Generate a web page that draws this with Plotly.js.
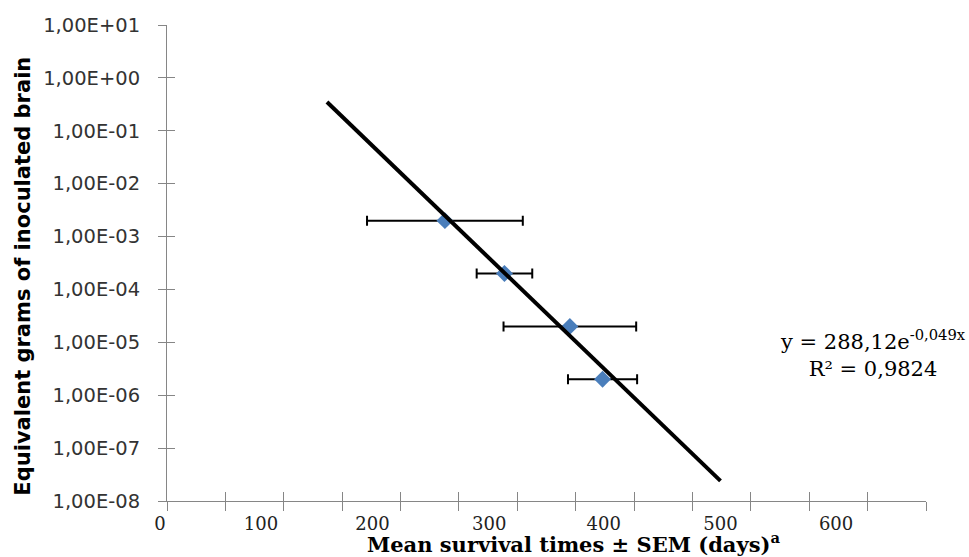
<!DOCTYPE html>
<html>
<head>
<meta charset="utf-8">
<script src="https://cdn.plot.ly/plotly-3.0.1.min.js"></script>
<style>html,body{margin:0;padding:0;background:#fff;}#chart{width:969px;height:557px;}</style>
</head>
<body>
<div id="chart"></div>
<script>
// Data
const survivalDays = [238, 289, 345, 373];
const brainGrams = [2e-3, 2e-4, 2e-5, 2e-6];
const semDays = [66.7, 23.8, 56.8, 29.6];
const trendDays = [137, 474];
const trendGrams = [0.35, 2.4e-8];

const yTickVals = [1e1, 1e0, 1e-1, 1e-2, 1e-3, 1e-4, 1e-5, 1e-6, 1e-7, 1e-8];
const yTickLabels = ['1,00E+01','1,00E+00','1,00E-01','1,00E-02','1,00E-03','1,00E-04','1,00E-05','1,00E-06','1,00E-07','1,00E-08'];
const xTickVals = [0,50,100,150,200,250,300,350,400,450,500,550,600,650];
const xTickLabels = ['0','100','200','300','400','500','600'];
// label anchor positions (labels in the reference sit left of their ticks)
const xLabelPos = [0, 86.5, 182, 282, 380, 480, 579];

const axisColor = '#868686';
const xRange = [0, 650];
const yRange = [-8, 1];

const traces = [
  {
    x: survivalDays, y: brainGrams, type: 'scatter', mode: 'markers',
    marker: {symbol: 'diamond', size: 13, color: '#4a7ebb'},
    error_x: {type: 'data', array: semDays, visible: true, color: '#000', thickness: 2, width: 5},
    showlegend: false
  },
  {
    x: trendDays, y: trendGrams, type: 'scatter', mode: 'lines',
    line: {color: '#000', width: 4}, showlegend: false
  },
  {x: [], y: [], xaxis: 'x2', yaxis: 'y', showlegend: false, type: 'scatter'},
  {x: [], y: [], xaxis: 'x3', yaxis: 'y2', showlegend: false, type: 'scatter'}
];

const layout = {
  width: 969, height: 557,
  margin: {l: 166.7, r: 43.3, t: 25, b: 56.3},
  paper_bgcolor: '#fff', plot_bgcolor: '#fff',
  showlegend: false,
  xaxis: {
    range: xRange, tickmode: 'array', tickvals: xTickVals, showticklabels: false,
    ticks: 'outside', ticklen: 9, tickcolor: axisColor, tickwidth: 1,
    showline: true, linecolor: axisColor, linewidth: 1, showgrid: false, zeroline: false
  },
  xaxis2: {
    overlaying: 'x', range: xRange, tickmode: 'array', tickvals: xLabelPos, ticktext: xTickLabels,
    ticks: '', showline: false, showgrid: false, zeroline: false, side: 'bottom',
    tickfont: {family: 'DejaVu Serif', size: 18, color: '#222'}, ticklabelstandoff: 10, ticklabelshift: -7
  },
  xaxis3: {
    overlaying: 'x', range: xRange, tickmode: 'array', tickvals: xTickVals, showticklabels: false,
    ticks: 'inside', ticklen: 9, tickcolor: axisColor, tickwidth: 1,
    showline: false, showgrid: false, zeroline: false
  },
  yaxis: {
    type: 'log', range: yRange, tickmode: 'array', tickvals: yTickVals, ticktext: yTickLabels,
    ticks: 'outside', ticklen: 8, tickcolor: axisColor, tickwidth: 1,
    showline: true, linecolor: axisColor, linewidth: 1, showgrid: false, zeroline: false,
    tickfont: {family: 'DejaVu Sans', size: 19.5, color: '#333'}, ticklabelstandoff: 14
  },
  yaxis2: {
    overlaying: 'y', type: 'log', range: yRange, tickmode: 'array', tickvals: yTickVals, showticklabels: false,
    ticks: 'inside', ticklen: 8, tickcolor: axisColor, tickwidth: 1,
    showline: false, showgrid: false, zeroline: false
  },
  annotations: [
    {
      xref: 'paper', yref: 'paper', x: -0.19, y: 0.473, xanchor: 'center', yanchor: 'middle', textangle: -90,
      text: '<b>Equivalent grams of inoculated brain</b>', showarrow: false,
      font: {family: 'DejaVu Sans', size: 21, color: '#000'}
    },
    {
      xref: 'paper', yref: 'paper', x: 0.535, y: -0.119, xanchor: 'center', yanchor: 'bottom',
      text: '<b>Mean survival times ± SEM (days)<sup>a</sup></b>', showarrow: false,
      font: {family: 'DejaVu Serif', size: 21, color: '#000'}, borderpad: 0
    },
    {
      xref: 'paper', yref: 'paper', x: 0.93, y: 0.31, xanchor: 'center', yanchor: 'middle',
      text: 'y = 288,12e<sup>-0,049x</sup><br>R² = 0,9824', showarrow: false, align: 'center',
      font: {family: 'DejaVu Serif', size: 21, color: '#000'}
    }
  ]
};

Plotly.newPlot('chart', traces, layout, {staticPlot: true});
</script>
</body>
</html>
